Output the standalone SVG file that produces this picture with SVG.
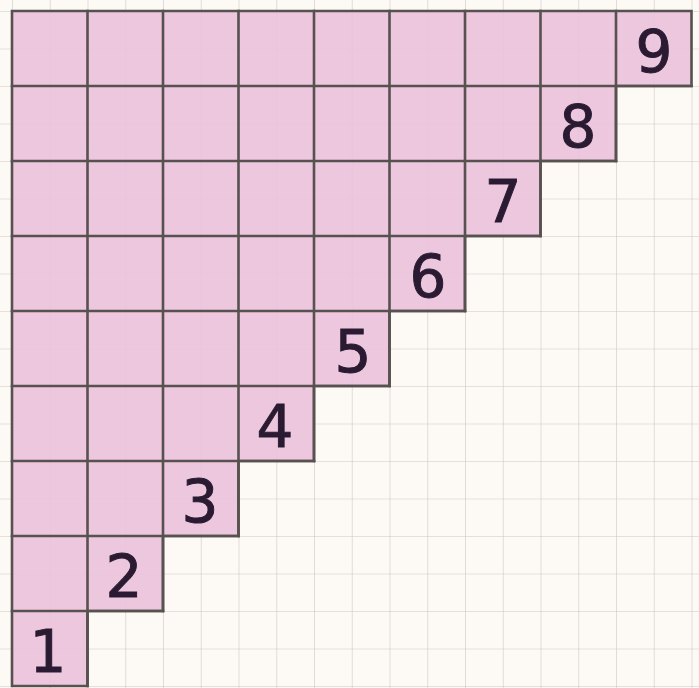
<svg xmlns="http://www.w3.org/2000/svg" width="699" height="688" viewBox="0 0 699 688">
<defs>
<style>
.paper{fill:#fdfaf6}
.shade{fill:#ebc1dc;fill-opacity:0.9}
.ink{fill:none;stroke:#57524f;stroke-width:2.6;stroke-linecap:square}
.num{font-family:"DejaVu Sans","Liberation Sans",sans-serif;font-size:58px;fill:#2a1b33;stroke:#2a1b33;stroke-width:1;text-anchor:middle}
</style>
<pattern id="fine" patternUnits="userSpaceOnUse" x="12" y="11" width="37.75" height="37.5">
<path d="M0 0H37.75M0 0V37.5" fill="none" stroke="#cdc6c3" stroke-width="1.2"/>
</pattern>
</defs>
<rect class="paper" x="0" y="0" width="699" height="688"/>
<rect x="0" y="0" width="699" height="688" fill="url(#fine)"/>
<g id="shading">
<path class="shade" d="M12 11H691.5V86H616V161H540.5V236H465V311H389.5V386H314V461H238.5V536H163V611H87.5V686H12Z"/>
</g>
<g id="connectors">
<path class="ink" d="M12 86H691.5M12 161H616M12 236H540.5M12 311H465M12 386H389.5M12 461H314M12 536H238.5M12 611H163"/>
<path class="ink" d="M87.5 11V686M163 11V611M238.5 11V536M314 11V461M389.5 11V386M465 11V311M540.5 11V236M616 11V161"/>
<path class="ink" d="M12 11H691.5V86H616V161H540.5V236H465V311H389.5V386H314V461H238.5V536H163V611H87.5V686H12Z"/>
</g>
<g id="n1"><text class="num" x="48" y="672">1</text></g>
<g id="n2"><text class="num" x="124" y="597">2</text></g>
<g id="n3"><text class="num" x="200" y="522">3</text></g>
<g id="n4"><text class="num" x="275" y="447">4</text></g>
<g id="n5"><text class="num" x="353" y="372">5</text></g>
<g id="n6"><text class="num" x="428" y="297">6</text></g>
<g id="n7"><text class="num" x="503" y="222">7</text></g>
<g id="n8"><text class="num" x="578" y="147">8</text></g>
<g id="n9"><text class="num" x="654" y="72">9</text></g>
</svg>
